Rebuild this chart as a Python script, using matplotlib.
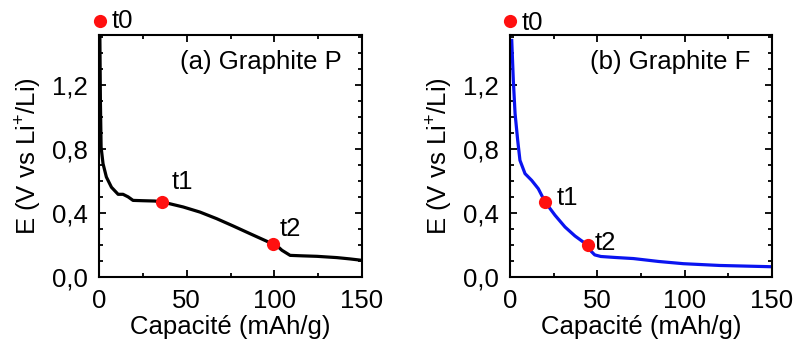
import matplotlib
matplotlib.use("Agg")
import matplotlib.pyplot as plt
from matplotlib.ticker import MultipleLocator, FuncFormatter

plt.rcParams['font.family'] = ['Liberation Sans', 'DejaVu Sans']
plt.rcParams['mathtext.fontset'] = 'custom'
plt.rcParams['mathtext.rm'] = 'Liberation Sans'
plt.rcParams['mathtext.it'] = 'Liberation Sans'

# Panel (a) Graphite P
cap_a = [0.5, 0.8, 1.2, 2.3, 4.2, 7.1, 10.9, 13.7, 16.6, 19.4, 25.0, 31.8,
         36.2, 48.0, 57.6, 67.1, 76.6, 86.2, 95.7, 99.5, 102.0, 104.3, 109.0,
         116.0, 124.3, 135.7, 143.0, 150.0]
e_a = [1.50, 1.10, 0.81, 0.707, 0.624, 0.56, 0.516, 0.516, 0.50, 0.478, 0.476, 0.474,
       0.468, 0.437, 0.405, 0.364, 0.318, 0.27, 0.223, 0.204, 0.19, 0.167, 0.135,
       0.132, 0.129, 0.121, 0.113, 0.104]
# Panel (b) Graphite F
cap_b = [1.0, 1.9, 2.9, 4.4, 5.7, 8.6, 12.4, 16.2, 20.1, 25.8, 31.5, 37.2,
         44.5, 46.5, 48.5, 52.0, 60.0, 70.7, 85.0, 99.3, 120.0, 150.0]
e_b = [1.476, 1.227, 1.02, 0.853, 0.728, 0.645, 0.603, 0.551, 0.468, 0.385, 0.312, 0.256,
       0.198, 0.16, 0.138, 0.128, 0.122, 0.115, 0.097, 0.083, 0.072, 0.064]

points_a_x = [0.4, 36.2, 99.5]
points_a_y = [1.60, 0.468, 0.204]
points_b_x = [0.0, 20.1, 44.5]
points_b_y = [1.60, 0.468, 0.198]
point_labels = ['t0', 't1', 't2']
label_a_pos = [(7.3, 1.595), (41.6, 0.59), (102.8, 0.30)]
label_b_pos = [(6.7, 1.585), (26.8, 0.49), (48.7, 0.215)]

titles = ['(a) Graphite P', '(b) Graphite F']
xlabel = 'Capacité (mAh/g)'
ylabel = 'E (V vs Li$^{+}$/Li)'
xticks = [0, 50, 100, 150]
yticks = [0.0, 0.4, 0.8, 1.2]

fig = plt.figure(figsize=(7.95, 3.43), dpi=100)
axa = fig.add_axes([99/795, 66/343, 263/795, 242/343])
axb = fig.add_axes([510/795, 66/343, 262/795, 242/343])

fs = 18.5
for ax, cx, cy, col, px, py, lpos, title, tx in [
        (axa, cap_a, e_a, 'black', points_a_x, points_a_y, label_a_pos, titles[0], 0.924),
        (axb, cap_b, e_b, '#0a14f0', points_b_x, points_b_y, label_b_pos, titles[1], 0.916)]:
    ax.plot(cx, cy, color=col, lw=2.3, zorder=2, solid_joinstyle='round')
    ax.plot(px, py, 'o', color='#ff1010', ms=9.5, zorder=3, clip_on=False, mec='none')
    for lab, (lx, ly) in zip(point_labels, lpos):
        ax.text(lx, ly, lab, fontsize=fs, va='center', ha='left', clip_on=False)
    ax.text(tx, 0.888, title, transform=ax.transAxes, fontsize=fs, ha='right', va='center')
    ax.set_xlim(0, 150)
    ax.set_ylim(0, 1.51)
    ax.set_xticks(xticks)
    ax.set_yticks(yticks)
    ax.xaxis.set_minor_locator(MultipleLocator(25))
    ax.yaxis.set_minor_locator(MultipleLocator(0.1))
    ax.yaxis.set_major_formatter(FuncFormatter(lambda v, p: f"{v:.1f}".replace('.', ',')))
    ax.tick_params(which='both', direction='in', top=True, right=True, labelsize=fs,
                   width=1.3)
    ax.tick_params(axis='x', which='both', pad=8.5)
    ax.tick_params(axis='y', which='both', pad=8)
    ax.tick_params(which='major', length=5)
    ax.tick_params(which='minor', length=3.2)
    for s in ax.spines.values():
        s.set_linewidth(1.5)
    ax.set_xlabel(xlabel, fontsize=fs, labelpad=1.5)
    ax.set_ylabel(ylabel, fontsize=fs, labelpad=5.5)

fig.savefig('out.png', dpi=100)
